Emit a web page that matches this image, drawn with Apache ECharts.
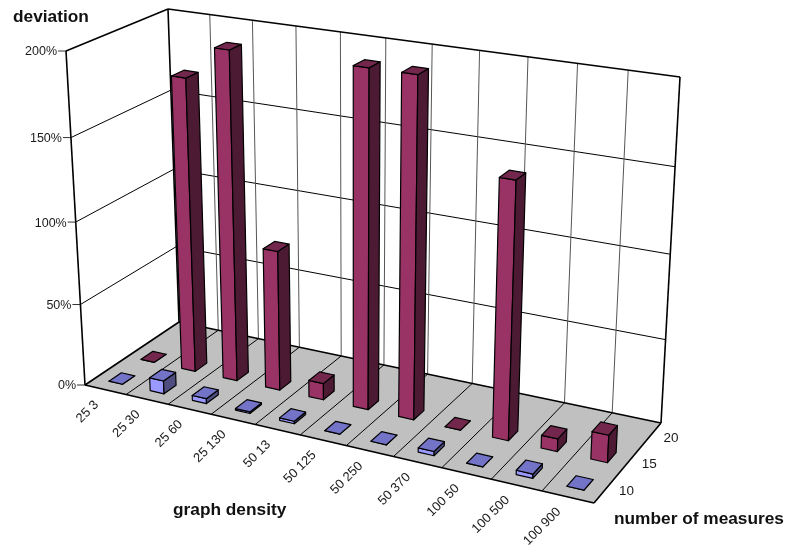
<!DOCTYPE html>
<html>
<head>
<meta charset="utf-8">
<title>deviation</title>
<script src="https://cdn.jsdelivr.net/npm/echarts@6/dist/echarts.min.js"></script>
<style>
    html, body { margin: 0; padding: 0; background: #fff; }
    #main { width: 788px; height: 550px; }
</style>
</head>
<body>
<div id="main"></div>
<script>
var categories = ['25 3', '25 30', '25 60', '25 130', '50 13', '50 125', '50 250', '50 370', '100 50', '100 500', '100 900'];
var measures = ['10', '15', '20'];
var yTicks = [0, 50, 100, 150, 200];
// percent deviation per category, one array per row that has bars
var values10 = [0, 8, 3, 1, 1.5, 0, 0, 2.5, 0, 2.5, 0];
var values15 = [0, 179, 199, 85, 10, 200, 200, 0, 150, 7.5, 16];

var fontName = '"Liberation Sans", Arial, sans-serif';

// corners of the box on screen: floor quad and the plane of the 200% line
var floorQuad = [[85, 385], [594, 503], [661, 423], [179, 322]];
var topQuad = [[66, 51], [611, 131], [680, 77], [168, 9]];
var heightBend = 1.05;

// unit square -> quad, corners in the order (0,0) (1,0) (1,1) (0,1)
function quadMatrix(q) {
    var dx1 = q[1][0] - q[2][0], dx2 = q[3][0] - q[2][0], sx = q[0][0] - q[1][0] + q[2][0] - q[3][0];
    var dy1 = q[1][1] - q[2][1], dy2 = q[3][1] - q[2][1], sy = q[0][1] - q[1][1] + q[2][1] - q[3][1];
    var den = dx1 * dy2 - dx2 * dy1;
    var g = (sx * dy2 - dx2 * sy) / den;
    var h = (dx1 * sy - sx * dy1) / den;
    return [
        q[1][0] - q[0][0] + g * q[1][0], q[3][0] - q[0][0] + h * q[3][0], q[0][0],
        q[1][1] - q[0][1] + g * q[1][1], q[3][1] - q[0][1] + h * q[3][1], q[0][1],
        g, h
    ];
}
function applyQuad(m, u, w) {
    var d = m[6] * u + m[7] * w + 1;
    return [(m[0] * u + m[1] * w + m[2]) / d, (m[3] * u + m[4] * w + m[5]) / d];
}
var floorM = quadMatrix(floorQuad);
var topM = quadMatrix(topQuad);

// u along categories, w into depth, v up, all 0..1
function project(u, w, v) {
    var a = applyQuad(floorM, u, w), b = applyQuad(topM, u, w);
    var f = v / (v + heightBend * (1 - v));
    return [a[0] + (b[0] - a[0]) * f, a[1] + (b[1] - a[1]) * f];
}

function line(a, b, width, color) {
    return {
        type: 'line',
        shape: { x1: a[0], y1: a[1], x2: b[0], y2: b[1] },
        style: { stroke: color || '#000', lineWidth: width }
    };
}
function label(text, p, align, rotation, size) {
    return {
        type: 'text', x: p[0], y: p[1], rotation: rotation || 0,
        style: { text: text, textAlign: align, textVerticalAlign: 'middle', fill: '#1a1a1a', font: size + 'px ' + fontName }
    };
}

// walls, floor, grid lines and tick labels
function renderFrame(params, api) {
    var kids = [];
    var n = categories.length;
    var H = api.getHeight();
    kids.push({
        type: 'polygon',
        shape: { points: [project(0, 0, 0), project(1, 0, 0), project(1, 1, 0), project(0, 1, 0)] },
        style: { fill: '#c0c0c0' }
    });
    yTicks.forEach(function (t) {
        var v = 1 - api.coord([0, t])[1] / H;
        if (t > 0 && t < 200) {
            kids.push(line(project(0, 0, v), project(0, 1, v), 1));
            kids.push(line(project(0, 1, v), project(1, 1, v), 1));
        }
        var a = project(0, 0, v);
        kids.push(line([a[0] - 8, a[1]], a, 1, '#333'));
        kids.push(label(t + '%', [a[0] - 9, a[1] + 1], 'right', 0, 12.5));
    });
    categories.forEach(function (c, i) {
        if (i > 0) {
            kids.push(line(project(i / n, 0, 0), project(i / n, 1, 0), 1));
            kids.push(line(project(i / n, 1, 0), project(i / n, 1, 1), 1, '#555'));
        }
        var p = project((i + 0.5) / n, 0, 0);
        kids.push(label(c, [p[0] - 9, p[1] + 13], 'right', Math.PI / 4, 13));
    });
    measures.forEach(function (c, i) {
        var p = project(1, (i + 0.5) / measures.length, 0);
        kids.push(label(c, [p[0] + 13, p[1] + 3], 'left', 0, 13.5));
    });
    // box edges
    kids.push(line(project(0, 0, 0), project(0, 0, 1), 1.6));
    kids.push(line(project(0, 0, 1), project(0, 1, 1), 1.6));
    kids.push(line(project(0, 1, 0), project(0, 1, 1), 1.6));
    kids.push(line(project(0, 1, 1), project(1, 1, 1), 1.6));
    kids.push(line(project(1, 1, 0), project(1, 1, 1), 1.6));
    kids.push(line(project(0, 0, 0), project(1, 0, 0), 1.6));
    kids.push(line(project(1, 0, 0), project(1, 1, 0), 1.6));
    kids.push(line(project(1, 1, 0), project(0, 1, 0), 1.6));
    kids.push(line(project(0, 1, 0), project(0, 0, 0), 1.6));
    return { type: 'group', children: kids };
}

function barRenderer(row, front, side, top) {
    return function (params, api) {
        var W = api.getWidth(), H = api.getHeight();
        var pt = api.coord([api.value(0), api.value(1)]);
        var u = pt[0] / W, v = 1 - pt[1] / H;
        var du = 0.33 / categories.length / 2;
        var dw = 0.38 / measures.length / 2;
        var w = (row + 0.5) / measures.length;
        function face(points, fill) {
            return {
                type: 'polygon',
                shape: { points: points.map(function (q) { return project(q[0], q[1], q[2]); }) },
                style: { fill: fill, stroke: '#000', lineWidth: 1.2, lineJoin: 'round' }
            };
        }
        var u0 = u - du, u1 = u + du, w0 = w - dw, w1 = w + dw;
        return {
            type: 'group',
            children: [
                face([[u0, w0, 0], [u1, w0, 0], [u1, w0, v], [u0, w0, v]], front),
                face([[u1, w0, 0], [u1, w1, 0], [u1, w1, v], [u1, w0, v]], side),
                face([[u0, w0, v], [u1, w0, v], [u1, w1, v], [u0, w1, v]], top)
            ]
        };
    };
}

function rows(vals) {
    return vals.map(function (v, i) { return [i, v]; });
}

var titleFont = 'bold 17.3px ' + fontName;
var chart = echarts.init(document.getElementById('main'));
chart.setOption({
    animation: false,
    backgroundColor: '#fff',
    grid: { left: 0, right: 0, top: 0, bottom: 0 },
    xAxis: { type: 'category', data: categories, show: false },
    yAxis: { type: 'value', min: 0, max: 200, show: false },
    graphic: [
        { type: 'text', x: 13, y: 17, style: { text: 'deviation', fill: '#111', font: titleFont, textVerticalAlign: 'middle' } },
        { type: 'text', x: 173, y: 510, style: { text: 'graph density', fill: '#111', font: titleFont, textVerticalAlign: 'middle' } },
        { type: 'text', x: 614, y: 519, style: { text: 'number of measures', fill: '#111', font: titleFont, textVerticalAlign: 'middle' } }
    ],
    series: [
        { type: 'custom', silent: true, renderItem: renderFrame, data: [[0, 0]], clip: false },
        { type: 'custom', silent: true, name: '15', renderItem: barRenderer(1, '#993366', '#4d1a33', '#73274d'), data: rows(values15), clip: false },
        { type: 'custom', silent: true, name: '10', renderItem: barRenderer(0, '#9999ff', '#4d4d80', '#7373c8'), data: rows(values10), clip: false }
    ]
});
</script>
</body>
</html>
